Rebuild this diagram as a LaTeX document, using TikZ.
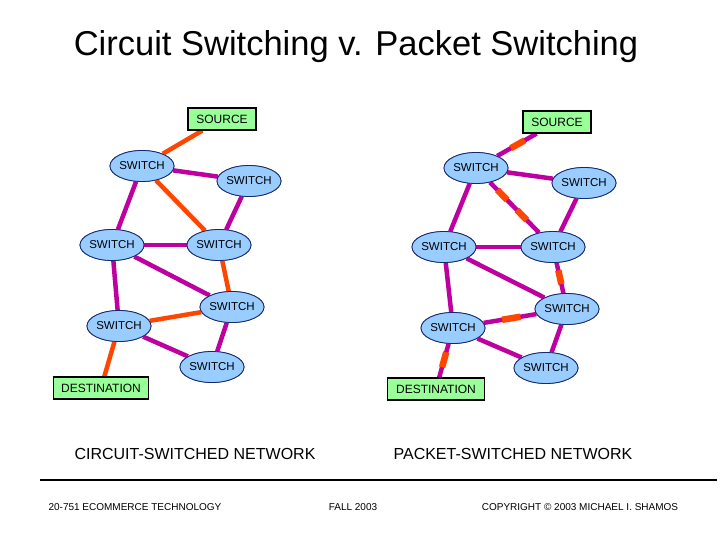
\documentclass[tikz,border=0pt]{standalone}
\usepackage{fontspec}
\setmainfont{Liberation Sans}
\usetikzlibrary{shapes.geometric}
\definecolor{sw}{RGB}{153,204,255}
\definecolor{swb}{RGB}{20,40,110}
\definecolor{pur}{RGB}{190,0,160}
\definecolor{org}{RGB}{255,70,0}
\definecolor{grn}{RGB}{153,255,153}
\begin{document}
\begin{tikzpicture}[x=1pt,y=-1pt,
  sw/.style={ellipse,draw=swb,fill=sw,line width=0.8pt,minimum width=64pt,minimum height=31pt,inner sep=-2pt,font=\fontsize{11.5}{13}\selectfont},
  box/.style={rectangle,draw=black,fill=grn,line width=1.2pt,minimum height=22pt,inner sep=3pt,font=\fontsize{12}{14}\selectfont},
  pl/.style={draw=pur,line width=4.5pt},
  ol/.style={draw=org,line width=4.5pt},
  pk/.style={draw=org,line width=6.5pt}]
\useasboundingbox (0,0) rectangle (720,540);
\node[font=\fontsize{34.5}{40}\selectfont] (title) at (356,47) {Circuit Switching v. Packet Switching};
% left network
\node[box,minimum width=68pt] (ls) at (222,119) {SOURCE};
\node[sw] (l1) at (142,166) {SWITCH};
\node[sw] (l2) at (249,181) {SWITCH};
\node[sw] (l3) at (112,245) {SWITCH};
\node[sw] (l4) at (219,245) {SWITCH};
\node[sw] (l5) at (232,307) {SWITCH};
\node[sw] (l6) at (119,326) {SWITCH};
\node[sw] (l7) at (212,367) {SWITCH};
\node[box,minimum width=95pt] (ld) at (101,388) {DESTINATION};
% right network
\node[box,minimum width=68pt] (rs) at (557,122) {SOURCE};
\node[sw] (r1) at (476,168) {SWITCH};
\node[sw] (r2) at (584,183) {SWITCH};
\node[sw] (r3) at (444,247) {SWITCH};
\node[sw] (r4) at (553,247) {SWITCH};
\node[sw] (r5) at (567,309) {SWITCH};
\node[sw] (r6) at (453,328) {SWITCH};
\node[sw] (r7) at (546,368) {SWITCH};
\node[box,minimum width=97pt] (rd) at (436,389) {DESTINATION};
% left edges
\draw[ol] (ls) -- (l1);
\draw[pl] (l1) -- (l2);
\draw[ol] (l1) -- (l4);
\draw[pl] (l1) -- (l3);
\draw[pl] (l2) -- (l4);
\draw[pl] (l3) -- (l4);
\draw[pl] (l3) -- (l5);
\draw[pl] (l3) -- (l6);
\draw[ol] (l4) -- (l5);
\draw[ol] (l5) -- (l6);
\draw[pl] (l6) -- (l7);
\draw[pl] (l5) -- (l7);
\draw[ol] (l6) -- (ld);
% right edges
\draw[pl] (rs) -- (r1) coordinate[pos=.3](a1) coordinate[pos=.65](a2);
\draw[pk] (a1) -- (a2);
\draw[pl] (r1) -- (r2);
\draw[pl] (r1) -- (r4) coordinate[pos=.15](b1) coordinate[pos=.35](b2) coordinate[pos=.55](b3) coordinate[pos=.75](b4);
\draw[pk] (b1) -- (b2); \draw[pk] (b3) -- (b4);
\draw[pl] (r1) -- (r3);
\draw[pl] (r2) -- (r4);
\draw[pl] (r3) -- (r4);
\draw[pl] (r3) -- (r5);
\draw[pl] (r3) -- (r6);
\draw[pl] (r4) -- (r5) coordinate[pos=.25](c1) coordinate[pos=.7](c2);
\draw[pk] (c1) -- (c2);
\draw[pl] (r5) -- (r6) coordinate[pos=.3](d1) coordinate[pos=.65](d2);
\draw[pk] (d1) -- (d2);
\draw[pl] (r6) -- (r7);
\draw[pl] (r5) -- (r7);
\draw[pl] (r6) -- (rd) coordinate[pos=.25](e1) coordinate[pos=.7](e2);
\draw[pk] (e1) -- (e2);
% redraw nodes on top
\foreach \n/\p in {l1/{142,166},l2/{249,181},l3/{112,245},l4/{219,245},l5/{232,307},l6/{119,326},l7/{212,367},r1/{476,168},r2/{584,183},r3/{444,247},r4/{553,247},r5/{567,309},r6/{453,328},r7/{546,368}}
  \node[sw] at (\p) {SWITCH};
\node[box,minimum width=68pt] at (222,119) {SOURCE};
\node[box,minimum width=95pt] at (101,388) {DESTINATION};
\node[box,minimum width=68pt] at (557,122) {SOURCE};
\node[box,minimum width=97pt] at (436,389) {DESTINATION};
% captions
\node[font=\fontsize{16}{18}\selectfont] (cl) at (195,454) {CIRCUIT-SWITCHED NETWORK};
\node[font=\fontsize{16}{18}\selectfont] (cr) at (513,454) {PACKET-SWITCHED NETWORK};
\coordinate (h1) at (40,480); \coordinate (h2) at (717,480);
\draw[line width=1.5pt] (h1) -- (h2);
\node[font=\fontsize{10}{12}\selectfont] (f1) at (135,507) {20-751 ECOMMERCE TECHNOLOGY};
\node[font=\fontsize{10}{12}\selectfont] (f2) at (353,507) {FALL 2003};
\node[font=\fontsize{10}{12}\selectfont] (f3) at (580,507) {COPYRIGHT © 2003 MICHAEL I. SHAMOS};
\end{tikzpicture}
\end{document}
